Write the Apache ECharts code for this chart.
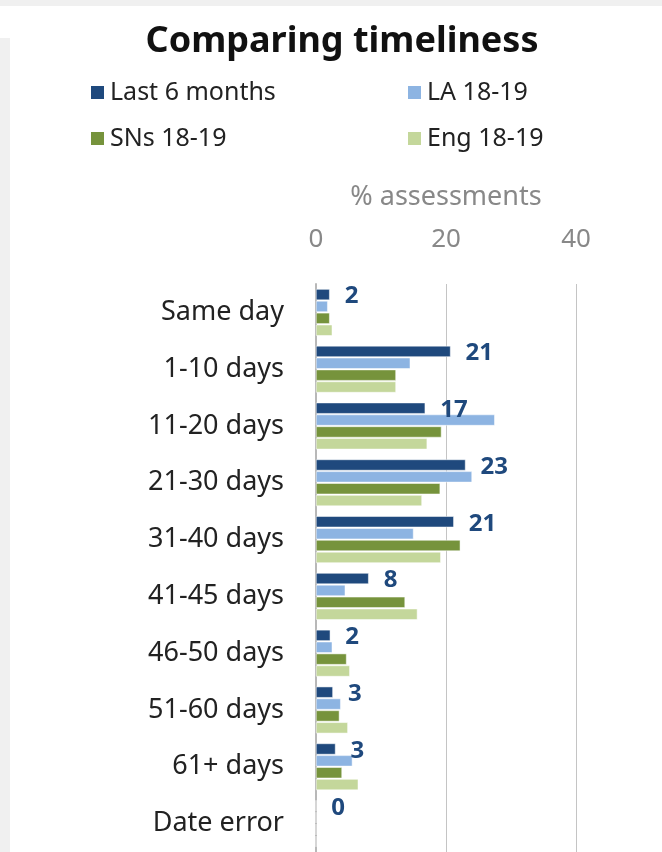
<!DOCTYPE html>
<html>
<head>
<meta charset="utf-8">
<script src="https://cdn.jsdelivr.net/npm/echarts@6/dist/echarts.min.js"></script>
<style>
  html, body { margin: 0; padding: 0; background: #fff; }
  #chart { width: 662px; height: 852px; }
</style>
</head>
<body>
<div id="chart"></div>
<script>
// categories, top to bottom
const categories = ['Same day', '1-10 days', '11-20 days', '21-30 days', '31-40 days',
  '41-45 days', '46-50 days', '51-60 days', '61+ days', 'Date error'];
const seriesNames = ['Last 6 months', 'LA 18-19', 'SNs 18-19', 'Eng 18-19'];
// values (% assessments)
const last6 = [2.1, 20.7, 16.8, 23.0, 21.2, 8.1, 2.2, 2.6, 3.0, 0];
const la = [1.8, 14.5, 27.5, 24.0, 15.0, 4.5, 2.5, 3.8, 5.6, 0];
const sns = [2.1, 12.3, 19.3, 19.1, 22.2, 13.7, 4.7, 3.6, 4.0, 0];
const eng = [2.5, 12.3, 17.1, 16.3, 19.2, 15.6, 5.2, 4.9, 6.5, 0];
const xTicks = [0, 20, 40];

const colors = ['#1F497D', '#8DB4E2', '#76933C', '#C4D79B'];
const font = '"Noto Sans", "Open Sans", sans-serif';

const myChart = echarts.init(document.getElementById('chart'));

const legendPos = [[84, 75], [401, 75], [84, 121], [401, 121]];
const legends = seriesNames.map((n, i) => ({
  data: [n],
  left: legendPos[i][0],
  top: legendPos[i][1],
  icon: 'rect',
  itemWidth: 15,
  itemHeight: 15,
  itemGap: 6,
  textStyle: { fontSize: 25, color: '#222', fontFamily: font }
}));

const dataSets = [last6, la, sns, eng];

const option = {
  color: colors,
  title: {
    text: 'Comparing timeliness',
    left: 337,
    textAlign: 'center',
    top: 19,
    textStyle: { fontSize: 36, fontWeight: 'bold', color: '#111', fontFamily: font }
  },
  legend: legends,
  graphic: [
    { type: 'rect', shape: { x: 0, y: 0, width: 662, height: 6 }, style: { fill: '#f0f0f0' } },
    { type: 'rect', shape: { x: 0, y: 38, width: 10, height: 814 }, style: { fill: '#f0f0f0' } }
  ],
  grid: { left: 316, right: 86, top: 284, bottom: 0, containLabel: false },
  xAxis: {
    type: 'value',
    position: 'top',
    min: xTicks[0],
    max: xTicks[xTicks.length - 1],
    interval: 20,
    name: '% assessments',
    nameLocation: 'middle',
    nameGap: 73,
    nameTextStyle: { fontSize: 27, color: '#888', fontFamily: font },
    axisLine: { show: false },
    axisTick: { show: false },
    axisLabel: { fontSize: 26, color: '#888', margin: 31, fontFamily: font },
    splitLine: { lineStyle: { color: '#c4c4c4', width: 1 } }
  },
  yAxis: {
    type: 'category',
    inverse: true,
    data: categories,
    axisLine: { show: true, lineStyle: { color: '#b8b8b8', width: 2 } },
    axisTick: { show: false },
    axisLabel: { fontSize: 27, color: '#222', margin: 32, fontFamily: font }
  },
  series: dataSets.map((d, i) => ({
    name: seriesNames[i],
    type: 'bar',
    data: d,
    barWidth: 11,
    barGap: '8%',
    itemStyle: { color: colors[i], borderColor: '#fff', borderWidth: 0.5 },
    label: i === 0 ? {
      show: true,
      position: 'right',
      distance: 15,
      offset: [0, 2],
      formatter: p => Math.round(p.value),
      fontSize: 24,
      fontWeight: 'bold',
      color: '#1F497D',
      fontFamily: font
    } : { show: false }
  }))
};
myChart.setOption(option);
</script>
</body>
</html>
